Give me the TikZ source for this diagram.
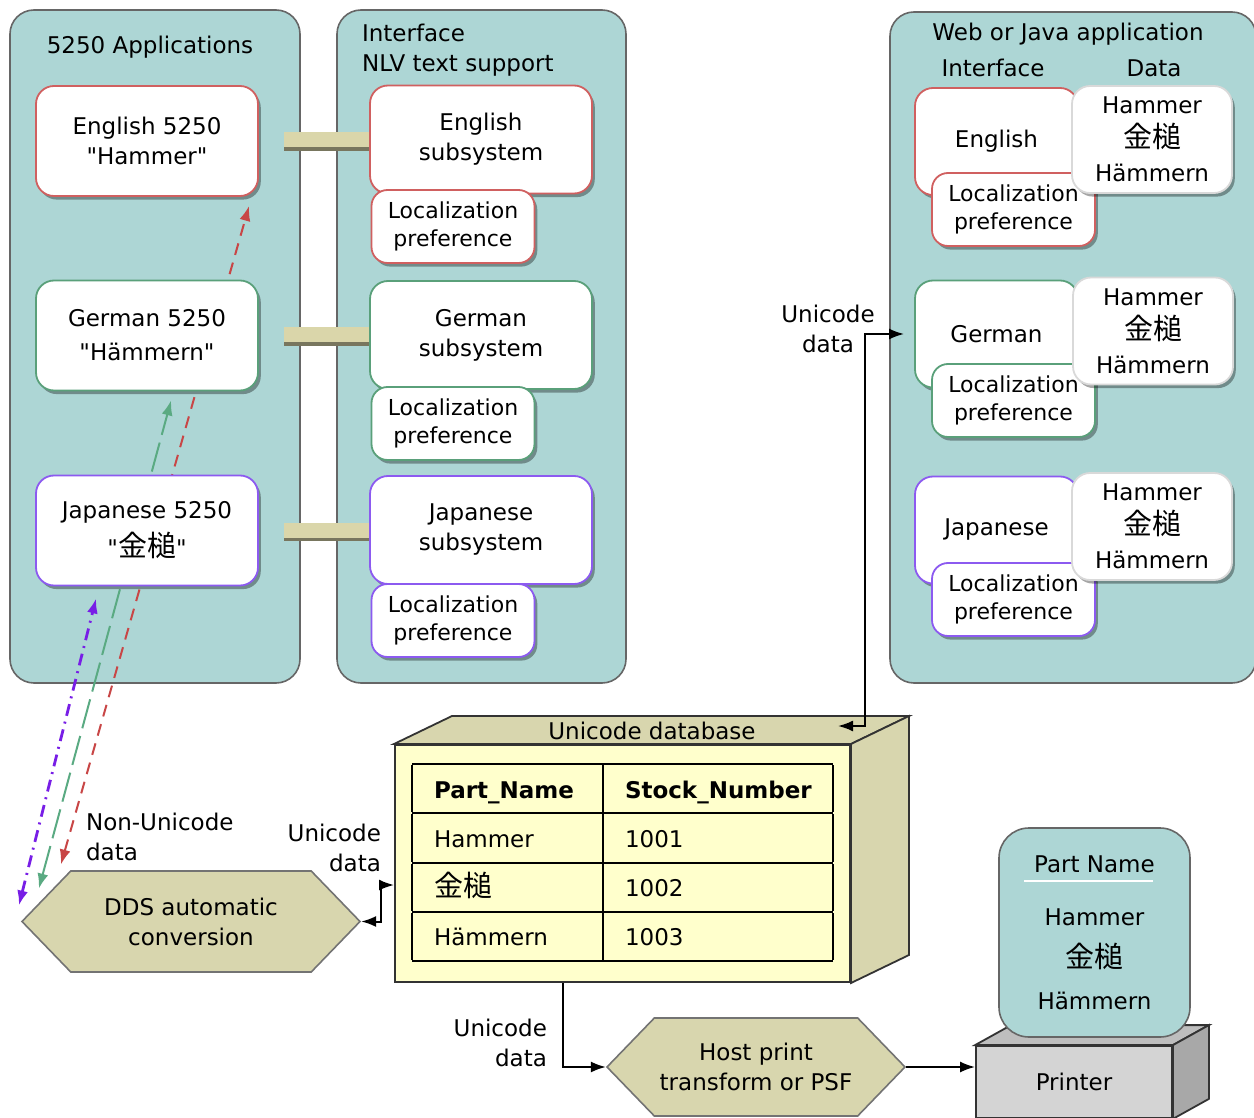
\documentclass[tikz,border=0pt]{standalone}
\usepackage{fontspec}
\setmainfont{DejaVu Sans}[Ligatures=TeXOff]
\newfontfamily\jpfont{Noto Sans CJK JP}[Ligatures=TeXOff]
\usepackage{tikz}
\usetikzlibrary{arrows.meta,shapes.symbols,shadows}
\setlength{\arrayrulewidth}{1pt}
\setlength{\tabcolsep}{11pt}
\newcommand{\jphammer}{{\jpfont\fontsize{14.5}{15}\selectfont 金槌}}

\definecolor{panelteal}{RGB}{173,214,213}
\definecolor{barkhaki}{RGB}{218,214,170}
\definecolor{hexkhaki}{RGB}{216,214,174}
\definecolor{dbyellow}{RGB}{255,255,204}
\definecolor{engred}{RGB}{208,96,96}
\definecolor{gergreen}{RGB}{90,160,122}
\definecolor{jppurple}{RGB}{140,90,240}
\definecolor{arrred}{RGB}{200,70,70}
\definecolor{arrgreen}{RGB}{90,170,130}
\definecolor{arrpurple}{RGB}{120,30,230}
\definecolor{prfront}{RGB}{212,212,212}
\definecolor{prside}{RGB}{168,168,168}
\definecolor{prtop}{RGB}{190,190,190}

\pgfdeclarelayer{panels}
\pgfdeclarelayer{links}
\pgfsetlayers{panels,links,main}

\begin{document}
\begin{tikzpicture}[x=0.5pt,y=-0.5pt,font=\fontsize{11.5}{15}\selectfont]

\tikzset{panel/.style = {draw=black!60, fill=panelteal, line width=0.8pt, rounded corners=12pt}}
\tikzset{box/.style = {shape=rectangle, draw, fill=white, line width=0.9pt, rounded corners=9pt, align=center, drop shadow={shadow xshift=1.4pt, shadow yshift=-1.8pt, opacity=0.35, fill=black}}}
\tikzset{appbox/.style = {box, minimum width=111pt, minimum height=55pt}}
\tikzset{subbox/.style = {box, minimum width=111pt, minimum height=54pt}}
\tikzset{locbox/.style = {box, minimum width=81.5pt, minimum height=36.5pt, rounded corners=8pt, font=\fontsize{11}{14}\selectfont}}
\tikzset{ifbox/.style = {box, minimum width=81.5pt, minimum height=53.5pt}}
\tikzset{databox/.style = {box, draw=black!15, minimum width=80pt, minimum height=53.5pt, font=\fontsize{11.5}{17}\selectfont}}
\tikzset{bar/.style = {draw=barkhaki, line width=7.5pt, preaction={draw=barkhaki!55!black, line width=7.5pt, transform canvas={yshift=-1.8pt}}}}
\tikzset{hexa/.style = {shape=signal, signal to=east and west, signal pointer angle=92, draw=black!55, fill=hexkhaki, line width=0.8pt, align=center, inner sep=0pt}}
\tikzset{face/.style = {draw=black!80, fill=hexkhaki, line width=0.9pt}}
\tikzset{conn/.style = {line width=1pt, >={Latex[length=7.5pt,width=5.5pt]}}}
\tikzset{redconn/.style = {conn, <->, color=arrred, dash pattern=on 6pt off 4pt}}
\tikzset{greenconn/.style = {conn, <->, color=arrgreen, dash pattern=on 15pt off 4pt}}
\tikzset{purpleconn/.style = {conn, <->, color=arrpurple, line width=1.4pt, dash pattern=on 6pt off 3pt on 1pt off 3pt}}

\useasboundingbox (0,0) rectangle (1254,1118);

% panels
\begin{pgfonlayer}{panels}
\node[panel, minimum width=145pt, minimum height=336.5pt] (apps) at (155,346.5) {};
\node[panel, minimum width=144.5pt, minimum height=336.5pt] (nlv) at (481.5,346.5) {};
\node[panel, minimum width=183pt, minimum height=335.5pt] (web) at (1073,347.5) {};
\end{pgfonlayer}

% titles
\node (appstitle) at (150,47) {5250 Applications};
\node[align=left, anchor=west] (nlvtitle) at (355,50) {Interface\\NLV text support};
\node (webtitle) at (1068,34) {Web or Java application};
\node (iftitle) at (993,68) {Interface};
\node (datatitle) at (1154,68) {Data};

% 5250 applications
\node[appbox, draw=engred] (engapp) at (147,141) {English 5250\\"Hammer"};
\node[appbox, draw=gergreen] (gerapp) at (147,335.5) {German 5250\\[2pt]"Hämmern"};
\node[appbox, draw=jppurple] (jpapp) at (147,530.5) {Japanese 5250\\[4pt]"\jphammer"};

% subsystems
\node[subbox, draw=engred] (engsub) at (481,139.5) {English\\subsystem};
\node[locbox, draw=engred] (engloc) at (453,226.5) {Localization\\preference};
\node[subbox, draw=gergreen] (gersub) at (481,335) {German\\subsystem};
\node[locbox, draw=gergreen] (gerloc) at (453,423.5) {Localization\\preference};
\node[subbox, draw=jppurple] (jpsub) at (481,530) {Japanese\\subsystem};
\node[locbox, draw=jppurple] (jploc) at (453,620.5) {Localization\\preference};

% web or java application
\node[ifbox, draw=engred] (engif) at (996.5,141.5) {English};
\node[locbox, draw=engred] (engifloc) at (1013.5,209.5) {Localization\\preference};
\node[databox] (engdata) at (1152,139.5) {Hammer\\\jphammer\\Hämmern};
\node[ifbox, draw=gergreen] (gerif) at (996.5,334) {German};
\node[locbox, draw=gergreen] (gerifloc) at (1013.5,400.5) {Localization\\preference};
\node[databox] (gerdata) at (1153,331) {Hammer\\\jphammer\\Hämmern};
\node[ifbox, draw=jppurple] (jpif) at (996.5,530) {Japanese};
\node[locbox, draw=jppurple] (jpifloc) at (1013.5,599.5) {Localization\\preference};
\node[databox] (jpdata) at (1152,526.5) {Hammer\\\jphammer\\Hämmern};

% conversion
\node[hexa, minimum width=169pt, minimum height=50.5pt] (dds) at (191,921.5) {DDS automatic\\conversion};
\node[align=left, anchor=west] (nonuni) at (79,837) {Non-Unicode\\data};

% database
\node[draw=black!80, fill=dbyellow, line width=1pt, minimum width=227.5pt, minimum height=118.5pt] (db) at (622.5,863.5) {};
\draw[face] (db.north west) -- ++(58,-28) -- ([shift={(29pt,14pt)}]db.north east) -- (db.north east) -- cycle;
\draw[face] (db.north east) -- ++(58,-28) -- ([shift={(29pt,14pt)}]db.south east) -- (db.south east) -- cycle;
\node (dbtitle) at (652,731) {Unicode database};
\node[inner sep=0pt] (parts) at (622.5,862.5) {\renewcommand{\arraystretch}{1.57}%
\begin{tabular}{|p{73.5pt}|p{93pt}|}\hline
\textbf{Part\_Name} & \textbf{Stock\_Number}\\\hline
Hammer & 1001\\\hline
\jphammer & 1002\\\hline
Hämmern & 1003\\\hline
\end{tabular}};

% printing
\node[hexa, minimum width=149pt, minimum height=49pt] (host) at (756,1067) {Host print\\transform or PSF};
\node[draw=black!80, fill=prfront, line width=0.9pt, minimum width=98pt, minimum height=36pt] (printer) at (1074,1082) {Printer};
\draw[draw=black!80, fill=prtop, line width=0.9pt] (printer.north west) -- ++(36,-20) -- ([shift={(18pt,10pt)}]printer.north east) -- (printer.north east) -- cycle;
\draw[draw=black!80, fill=prside, line width=0.9pt] (printer.north east) -- ++(36,-20) -- ([shift={(18pt,10pt)}]printer.south east) -- (printer.south east) -- cycle;
\node[draw=black!60, fill=panelteal, line width=0.8pt, rounded corners=15pt, minimum width=95.5pt, minimum height=104.5pt, align=center, font=\fontsize{11.5}{21}\selectfont] (sheet) at (1094.5,932.5) {Part Name\\[5.5pt]Hammer\\\jphammer\\Hämmern};
\draw[white, line width=1pt] ([shift={(13pt,-27pt)}]sheet.north west) -- ([shift={(-19pt,-27pt)}]sheet.north east);

% labels
\node[align=right, anchor=east] (unilabdb) at (388,848) {Unicode\\data};
\node[align=center] (unilabweb) at (828,329) {Unicode\\data};
\node[align=right, anchor=east] (unilabhost) at (554,1043) {Unicode\\data};

% bars
\begin{pgfonlayer}{links}
\draw[bar] (engsub.west) -- ([xshift=12.5pt]engapp.east |- engsub.west);
\draw[bar] (gersub.west) -- ([xshift=12.5pt]gerapp.east |- gersub.west);
\draw[bar] (jpsub.west) -- ([xshift=12.5pt]jpapp.east |- jpsub.west);

% non-unicode arcs
\draw[redconn] ([shift={(20pt,28.5pt)}]dds.west) -- ([shift={(107pt,-4.5pt)}]engapp.south west);
\draw[greenconn] ([shift={(9pt,16.5pt)}]dds.west) -- ([shift={(68pt,-4.5pt)}]gerapp.south west);
\draw[purpleconn] ([shift={(-1pt,8pt)}]dds.west) -- ([shift={(30.5pt,-6pt)}]jpapp.south west);
\end{pgfonlayer}

% unicode arcs
\draw[conn, <->] (dds.east) -- ++(10pt,0) |- ([yshift=-10.75pt]db.west);
\draw[conn, <->] ([shift={(-6.5pt,9pt)}]db.north east) -| ([xshift=-24.5pt]gerif.west) -- ([xshift=-5pt]gerif.west);
\draw[conn, ->] ([xshift=-29.75pt]db.south) |- (host.west);
\draw[conn, ->] (host.east) -- (host.east -| printer.west);

\end{tikzpicture}
\end{document}
